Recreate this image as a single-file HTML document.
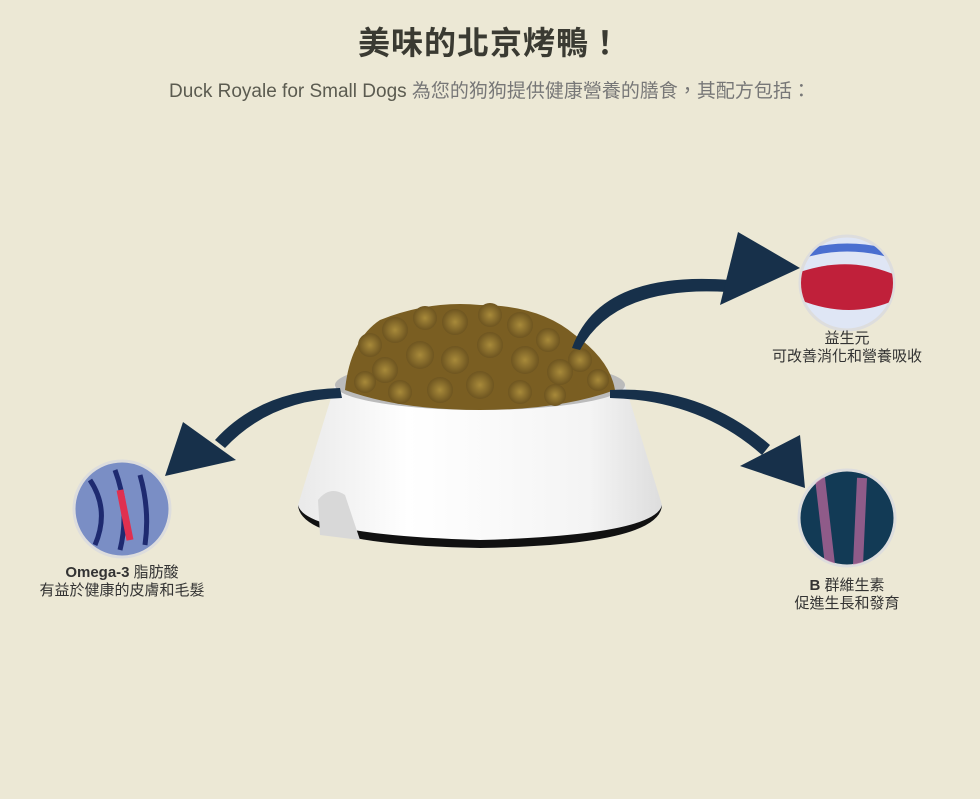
<!DOCTYPE html>
<html><head><meta charset="utf-8"><style>
body{margin:0;background:#ece8d5;width:980px;height:799px;overflow:hidden;font-family:"Liberation Sans","Noto Sans CJK TC",sans-serif;}
.t{position:absolute;left:0;width:980px;text-align:center;}
.lab{position:absolute;text-align:center;font-size:15px;color:#333;line-height:18px;}
</style></head><body>
<div class="t" style="top:18px;font-size:32px;font-weight:bold;color:#3a3a32;letter-spacing:1px;">美味的北京烤鴨！</div>
<div class="t" style="top:76px;font-size:19px;color:#5b5b50;">Duck Royale for Small Dogs <span style="color:#777">為您的狗狗提供健康營養的膳食，其配方包括：</span></div>
<svg width="980" height="799" style="position:absolute;left:0;top:0">
<defs>
<linearGradient id="bw" x1="0" x2="1"><stop offset="0" stop-color="#e9e9e9"/><stop offset="0.3" stop-color="#fff"/><stop offset="0.8" stop-color="#f4f4f4"/><stop offset="1" stop-color="#ddd"/></linearGradient>
<radialGradient id="kb"><stop offset="0" stop-color="#a88a3a"/><stop offset="1" stop-color="#6e5520"/></radialGradient>
<clipPath id="c1"><circle cx="847" cy="283" r="46"/></clipPath>
<clipPath id="c2"><circle cx="847" cy="518" r="47"/></clipPath>
<clipPath id="c3"><circle cx="122" cy="509" r="47"/></clipPath>
</defs>
<path d="M335,385 L298,505 Q300,545 480,548 Q660,545 662,505 L625,385 Z" fill="url(#bw)"/>
<path d="M298,505 Q300,545 480,548 Q660,545 662,505 Q655,535 480,540 Q305,535 298,505Z" fill="#111"/>
<path d="M318,500 Q330,485 345,495 L360,540 L320,535Z" fill="#d8d8d8"/>
<ellipse cx="480" cy="385" rx="145" ry="25" fill="#bbb"/>
<path d="M345,390 Q350,340 380,320 Q430,300 480,305 Q540,305 575,335 Q610,360 615,390 Q560,410 480,410 Q400,410 345,390Z" fill="#7a5e22"/>
<g fill="url(#kb)">
<circle cx="370" cy="345" r="12"/><circle cx="395" cy="330" r="13"/><circle cx="425" cy="318" r="12"/><circle cx="455" cy="322" r="13"/><circle cx="490" cy="315" r="12"/><circle cx="520" cy="325" r="13"/><circle cx="548" cy="340" r="12"/><circle cx="580" cy="360" r="12"/><circle cx="598" cy="380" r="11"/>
<circle cx="385" cy="370" r="13"/><circle cx="420" cy="355" r="14"/><circle cx="455" cy="360" r="14"/><circle cx="490" cy="345" r="13"/><circle cx="525" cy="360" r="14"/><circle cx="560" cy="372" r="13"/>
<circle cx="365" cy="382" r="11"/><circle cx="400" cy="392" r="12"/><circle cx="440" cy="390" r="13"/><circle cx="480" cy="385" r="14"/><circle cx="520" cy="392" r="12"/><circle cx="555" cy="395" r="11"/>
</g>
<g fill="#17304a">
<path d="M572,348 Q600,270 730,280 L728,292 Q615,285 580,350Z"/>
<path d="M738,232 L800,268 L720,305 Z"/>
<path d="M610,390 Q700,385 770,445 L762,455 Q700,400 610,398Z"/>
<path d="M740,466 L805,488 L800,435 Z"/>
<path d="M340,388 Q260,390 215,440 L225,448 Q270,400 342,398Z"/>
<path d="M183,422 L165,476 L236,460 Z"/>
</g>
<circle cx="847" cy="283" r="47" fill="#dfe6f5" stroke="#ddd" stroke-width="3"/>
<g clip-path="url(#c1)">
<path d="M800,272 Q850,255 895,275 L895,300 Q850,320 800,300Z" fill="#c0203a"/>
<path d="M800,255 Q847,240 895,255" stroke="#4a6fd0" stroke-width="8" fill="none"/>
</g>
<circle cx="847" cy="518" r="48" fill="#123a55" stroke="#ddd" stroke-width="3"/>
<g clip-path="url(#c2)">
<path d="M820,478 L830,565 M862,478 L858,565" stroke="#c56aa0" stroke-width="10" opacity=".7"/>
</g>
<circle cx="122" cy="509" r="48" fill="#7a8ec5" stroke="#ddd" stroke-width="3"/>
<g clip-path="url(#c3)">
<path d="M90,480 Q110,510 95,545 M115,470 Q130,510 120,550 M140,475 Q150,510 145,545" stroke="#1e2a70" stroke-width="5" fill="none"/>
<path d="M120,490 L130,540" stroke="#e03050" stroke-width="7"/>
</g>
</svg>
<div class="lab" style="left:702px;top:330px;width:290px;">益生元<br>可改善消化和營養吸收</div>
<div class="lab" style="left:702px;top:577px;width:290px;"><b>B</b> 群維生素<br>促進生長和發育</div>
<div class="lab" style="left:-23px;top:564px;width:290px;"><b>Omega-3</b> 脂肪酸<br>有益於健康的皮膚和毛髮</div>
</body></html>
